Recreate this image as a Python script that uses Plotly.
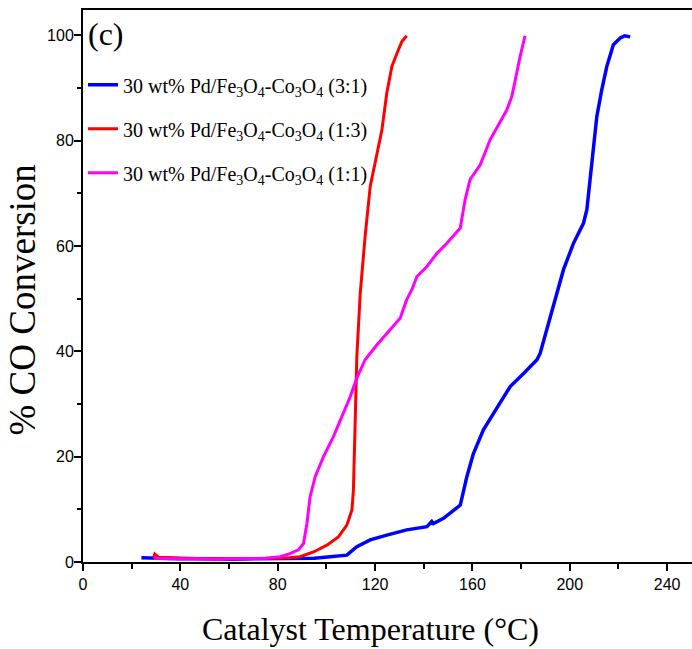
import plotly.graph_objects as go

# CO light-off curves for 30 wt% Pd on mixed Fe3O4-Co3O4 supports
temp_31 = [24, 30, 40, 50, 60, 70, 80, 90, 95, 101.6, 108.4, 112.5, 118, 124.8, 133,
           141.3, 143.3, 144, 148.1, 155, 157.7, 160.4, 164.5, 170, 175.5, 181, 186.5,
           187.8, 191.2, 194, 197.4, 201.5, 205.6, 207, 208.3, 209.7, 211.1, 213.1,
           215.2, 217.9, 220.7, 222.5, 224.8]
conv_31 = [0.8, 0.7, 0.6, 0.6, 0.5, 0.6, 0.6, 0.6, 0.7, 1.0, 1.3, 2.9, 4.2, 5.1, 6.1,
           6.7, 7.7, 7.3, 8.3, 10.8, 16.2, 20.6, 25.1, 29.2, 33.3, 35.8, 38.4,
           39.6, 45.3, 49.8, 55.5, 60.5, 64.3, 66.9, 72.6, 78.9, 84.6, 89.6,
           94.1, 98.2, 99.5, 99.9, 99.7]

temp_13 = [29, 29.5, 31, 40, 50, 60, 70, 80, 85, 89.2, 94.7, 100.2, 105, 108.4, 110.5,
           111.1, 111.8, 112.5, 113.9, 115.9, 118, 120.7, 122.8, 124.8, 126.9, 129,
           131, 133]
conv_13 = [0.8, 1.5, 0.9, 0.7, 0.6, 0.6, 0.6, 0.7, 0.8, 1.0, 1.9, 3.2, 4.8, 7.0, 9.9,
           13.7, 26.3, 39, 51, 61.8, 71.3, 77, 82, 89, 94.1, 96.6, 98.8, 99.9]

temp_11 = [29, 35, 45, 55, 65, 75, 81, 85, 88.5, 90.6, 92, 93.3, 95.4, 98.8, 102.9,
           106.4, 109.8, 112.5, 115.9, 120.7, 126.2, 130.3, 133, 135.1, 137.2, 141.3,
           145.4, 149.5, 155, 157, 159, 163.2, 167.3, 170.7, 174.1, 176.2, 177.5,
           179.6, 181.6]
conv_11 = [0.7, 0.6, 0.6, 0.5, 0.6, 0.7, 1.0, 1.6, 2.3, 3.5, 7.3, 12.4, 16.2, 20, 23.8,
           27.6, 31.4, 34.9, 38.4, 41.2, 44.1, 46.3, 49.8, 51.7, 54.2, 56.1,
           58.6, 60.5, 63.4, 68.8, 72.6, 75.4, 80.2, 83, 85.8, 88.4, 91.5,
           96, 99.9]

name_31 = "30 wt% Pd/Fe<sub>3</sub>O<sub>4</sub>-Co<sub>3</sub>O<sub>4</sub> (3:1)"
name_13 = "30 wt% Pd/Fe<sub>3</sub>O<sub>4</sub>-Co<sub>3</sub>O<sub>4</sub> (1:3)"
name_11 = "30 wt% Pd/Fe<sub>3</sub>O<sub>4</sub>-Co<sub>3</sub>O<sub>4</sub> (1:1)"

x_ticks = [0, 40, 80, 120, 160, 200, 240]
y_ticks = [0, 20, 40, 60, 80, 100]

serif = "Liberation Serif, Times New Roman, serif"
sans = "Liberation Sans, Arial, sans-serif"

fig = go.Figure()
fig.add_trace(go.Scatter(x=temp_31, y=conv_31, mode="lines", name=name_31,
                         legendgroup="a", line=dict(color="#0000FF", width=3.5)))
fig.add_trace(go.Scatter(x=temp_13, y=conv_13, mode="lines", name=name_13,
                         legendgroup="b", line=dict(color="#FF0000", width=3)))
fig.add_trace(go.Scatter(x=temp_11, y=conv_11, mode="lines", name=name_11,
                         legendgroup="c", line=dict(color="#FF00FF", width=3)))

axis_common = dict(showgrid=False, zeroline=False, showline=True, linecolor="black",
                   linewidth=2, ticks="outside", ticklen=7, tickwidth=1.5,
                   tickcolor="black", tickfont=dict(family=sans, size=16, color="black"))

fig.update_layout(
    width=692, height=649,
    margin=dict(l=83, r=0, t=10, b=87),
    paper_bgcolor="white", plot_bgcolor="white",
    showlegend=True,
    legend=dict(x=0.0, y=0.90, xanchor="left", yanchor="top",
                bgcolor="rgba(0,0,0,0)", traceorder="grouped", tracegroupgap=15,
                font=dict(family=serif, size=20, color="black")),
    xaxis=dict(range=[0, 250.2], tickvals=x_ticks, mirror=True,
               minor=dict(dtick=20, tick0=0, ticks="outside", ticklen=5,
                          tickwidth=1.5, tickcolor="black"),
               **axis_common),
    yaxis=dict(range=[0, 104.8], tickvals=y_ticks, mirror=False,
               ticklabelstandoff=-3,
               minor=dict(dtick=10, tick0=0, ticks="outside", ticklen=4,
                          tickwidth=1.5, tickcolor="black"),
               **axis_common),
    annotations=[
        dict(text="(c)", xref="paper", yref="paper", x=0.005, y=0.993,
             xanchor="left", yanchor="top", showarrow=False,
             font=dict(family=serif, size=32, color="black")),
        dict(text="Catalyst Temperature (°C)", xref="paper", yref="paper",
             x=0.472, y=-0.1214, xanchor="center", yanchor="middle", showarrow=False,
             font=dict(family=serif, size=32, color="black")),
        dict(text="% CO Conversion", xref="paper", yref="paper",
             x=-0.099, y=0.475, xanchor="center", yanchor="middle", showarrow=False,
             textangle=-90, font=dict(family=serif, size=37, color="black")),
    ],
)

fig.write_html("out.html")
